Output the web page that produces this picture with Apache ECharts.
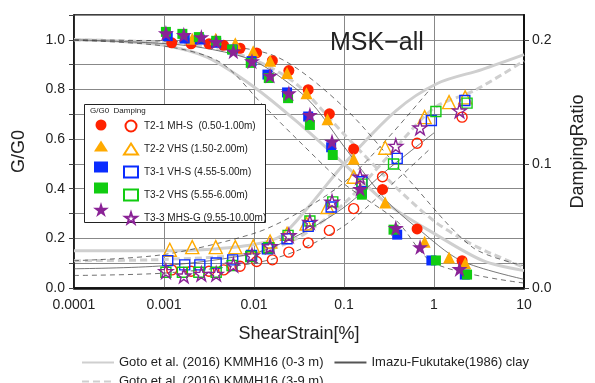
<!DOCTYPE html>
<html>
<head>
<meta charset="utf-8">
<script src="https://cdn.jsdelivr.net/npm/echarts@6/dist/echarts.min.js"></script>
<style>
  html, body { margin: 0; padding: 0; background: #fff; }
  #chart { width: 595px; height: 383px; }
</style>
</head>
<body>
<div id="chart"></div>
<script>
// ---- data ----
// sample strains [%]
const t21Strain = [0.00122, 0.002, 0.00316, 0.0046, 0.007, 0.0107, 0.016, 0.0244, 0.040, 0.0688, 0.128, 0.268, 0.649, 2.05]
const t21G = [0.988, 0.984, 0.984, 0.978, 0.966, 0.947, 0.916, 0.876, 0.799, 0.702, 0.56, 0.397, 0.238, 0.11]
const t21H = [0.0146, 0.0135, 0.0135, 0.0146, 0.0175, 0.0213, 0.0227, 0.0289, 0.0364, 0.0464, 0.064, 0.0896, 0.1166, 0.1377]

const t22Strain = [0.00116, 0.00206, 0.00376, 0.0062, 0.0098, 0.0151, 0.0233, 0.0383, 0.0656, 0.128, 0.287, 0.787, 1.47, 2.22]
const t22G = [null, 1.004, 1.004, 0.986, 0.954, 0.916, 0.866, 0.785, 0.68, 0.521, 0.345, 0.186, 0.123, 0.10]
const t22H = [0.0308, 0.0329, 0.0329, 0.0329, 0.0335, 0.0375, 0.0437, 0.052, 0.0653, 0.0896, 0.113, 0.1377, 0.1498, 0.1536]

const t31Strain = [0.0011, 0.0017, 0.0025, 0.0038, 0.0058, 0.0094, 0.0141, 0.0233, 0.040, 0.072, 0.158, 0.39, 0.935, 2.2]
const t31G = [1.015, 1.005, 1.001, 0.988, 0.961, 0.914, 0.86, 0.788, 0.691, 0.567, 0.383, 0.215, 0.111, 0.054]
const t31H = [0.0221, 0.0186, 0.0186, 0.0202, 0.0227, 0.0262, 0.0316, 0.0397, 0.0497, 0.0653, 0.0856, 0.1045, 0.135, 0.1511]

const t32Strain = [0.00105, 0.0016, 0.00244, 0.0038, 0.0057, 0.0092, 0.0146, 0.0239, 0.0418, 0.075, 0.158, 0.355, 1.05, 2.33]
const t32G = [1.032, 1.024, 1.011, 0.996, 0.961, 0.907, 0.846, 0.765, 0.657, 0.536, 0.376, 0.235, 0.111, 0.054]
const t32H = [0.0127, 0.0127, 0.0127, 0.0127, 0.0181, 0.0254, 0.0324, 0.0424, 0.054, 0.0694, 0.0837, 0.0999, 0.1422, 0.149]

const t33Strain = [0.00105, 0.00166, 0.0026, 0.0038, 0.0059, 0.0095, 0.0151, 0.0244, 0.0418, 0.0736, 0.151, 0.376, 0.70, 1.92]
const t33G = [1.027, 1.02, 1.011, 0.992, 0.954, 0.914, 0.856, 0.785, 0.698, 0.59, 0.40, 0.242, 0.165, 0.077]
const t33H = [0.0135, 0.010, 0.0113, 0.0113, 0.0186, 0.0262, 0.0335, 0.0424, 0.0532, 0.0694, 0.0896, 0.1144, 0.1293, 0.143]

// reference curves
const goto03GStrain = [0.0001, 0.0003, 0.001, 0.003, 0.01, 0.03, 0.1, 0.3, 1, 3.5, 10]
const goto03G = [1.0, 0.995, 0.978, 0.93, 0.81, 0.67, 0.50, 0.34, 0.22, 0.11, 0.07]
const goto03HStrain = [0.0001, 0.001, 0.003, 0.01, 0.02, 0.04, 0.1, 0.38, 1.1, 3.4, 10]
const goto03H = [0.030, 0.030, 0.031, 0.035, 0.042, 0.065, 0.10, 0.143, 0.165, 0.176, 0.188]

const goto39GStrain = [0.0001, 0.001, 0.003, 0.01, 0.03, 0.1, 0.38, 1, 2, 3.7, 10]
const goto39G = [1.0, 0.99, 0.97, 0.92, 0.82, 0.62, 0.405, 0.27, 0.2, 0.15, 0.083]
const goto39HStrain = [0.0001, 0.001, 0.01, 0.03, 0.1, 0.3, 1, 2.8, 10]
const goto39H = [0.022, 0.023, 0.028, 0.04, 0.068, 0.105, 0.145, 0.159, 0.183]

const imazuGStrain = [0.0001, 0.001, 0.003, 0.01, 0.03, 0.05, 0.1, 0.3, 0.66, 2, 10]
const imazuG = [1.0, 0.985, 0.965, 0.915, 0.8, 0.72, 0.57, 0.35, 0.24, 0.11, 0.035]
const imazuHStrain = [0.0001, 0.001, 0.01, 0.03, 0.1, 0.3, 1]
const imazuH = [0.0155, 0.018, 0.028, 0.042, 0.065, 0.095, 0.125]

const upperGStrain = [0.0001, 0.001, 0.003, 0.0183, 0.1, 0.53, 2.7, 10]
const upperG = [1.0, 0.995, 0.985, 0.93, 0.728, 0.434, 0.163, 0.09]
const lowerGStrain = [0.0001, 0.001, 0.0042, 0.0126, 0.03, 0.1, 0.38, 1, 10]
const lowerG = [0.998, 0.975, 0.91, 0.737, 0.6, 0.42, 0.272, 0.1, 0.02]
const upperHStrain = [0.0001, 0.001, 0.01, 0.03, 0.1, 0.3, 0.9]
const upperH = [0.022, 0.027, 0.044, 0.06, 0.085, 0.12, 0.16]
const lowerHStrain = [0.0001, 0.001, 0.01, 0.03, 0.1, 0.3, 0.9]
const lowerH = [0.0101, 0.012, 0.02, 0.03, 0.05, 0.08, 0.112]

const xTickLabels = ['0.0001', '0.001', '0.01', '0.1', '1', '10']

const samples = [
  { name: 'T2-1 MH-S  (0.50-1.00m)', strain: t21Strain, g: t21G, h: t21H, color: '#ff2200', symbol: 'circle', size: 11, openSize: 10 },
  { name: 'T2-2 VHS (1.50-2.00m)', strain: t22Strain, g: t22G, h: t22H, color: '#ffaa00', symbol: 'triangle', size: 12, openSize: 13 },
  { name: 'T3-1 VH-S (4.55-5.00m)', strain: t31Strain, g: t31G, h: t31H, color: '#0a2cff', symbol: 'rect', size: 10, openSize: 10 },
  { name: 'T3-2 VHS (5.55-6.00m)', strain: t32Strain, g: t32G, h: t32H, color: '#11cc11', symbol: 'rect', size: 10, openSize: 10 },
  { name: 'T3-3 MHS-G (9.55-10.00m)', strain: t33Strain, g: t33G, h: t33H, color: '#8a2296', symbol: 'star', size: 16, openSize: 14 }
]

const STAR = 'path://M50,0 L61,35 L98,35 L68,57 L79,91 L50,70 L21,91 L32,57 L2,35 L39,35 Z'
const FONT = 'Liberation Sans, Arial, sans-serif'

function pairs (xs, ys) {
  return xs.map((x, i) => [x, ys[i]]).filter(p => p[1] !== null)
}

function curve (name, xs, ys, yAxisIndex, lineStyle) {
  return {
    name: name,
    type: 'line',
    yAxisIndex: yAxisIndex,
    data: pairs(xs, ys),
    symbol: 'none',
    smooth: 0.3,
    silent: true,
    z: 1,
    color: lineStyle.color,
    lineStyle: lineStyle
  }
}

const gotoSolid = { color: '#cfcfcf', width: 3 }
const gotoDash = { color: '#cfcfcf', width: 3, type: [7, 4] }
const imazuStyle = { color: '#555', width: 0.8 }
const boundStyle = { color: '#333', width: 0.7, type: [5, 4] }

const series = [
  curve('Goto et al. (2016) KMMH16 (0-3 m)', goto03GStrain, goto03G, 0, gotoSolid),
  curve('Goto et al. (2016) KMMH16 (0-3 m)', goto03HStrain, goto03H, 1, gotoSolid),
  curve('Goto et al. (2016) KMMH16 (3-9 m)', goto39GStrain, goto39G, 0, gotoDash),
  curve('Goto et al. (2016) KMMH16 (3-9 m)', goto39HStrain, goto39H, 1, gotoDash),
  curve('Imazu-Fukutake(1986) clay', imazuGStrain, imazuG, 0, imazuStyle),
  curve('Imazu-Fukutake(1986) clay', imazuHStrain, imazuH, 1, imazuStyle),
  curve('upperG', upperGStrain, upperG, 0, boundStyle),
  curve('lowerG', lowerGStrain, lowerG, 0, boundStyle),
  curve('upperH', upperHStrain, upperH, 1, boundStyle),
  curve('lowerH', lowerHStrain, lowerH, 1, boundStyle)
]

samples.forEach((s, i) => {
  const sym = s.symbol === 'star' ? STAR : s.symbol
  series.push({
    name: s.name + ' G',
    type: 'scatter',
    yAxisIndex: 0,
    data: pairs(s.strain, s.g),
    symbol: sym,
    symbolSize: s.size,
    z: 3 + i,
    itemStyle: { color: s.color, opacity: 1 }
  })
  series.push({
    name: s.name,
    type: 'scatter',
    yAxisIndex: 1,
    data: pairs(s.strain, s.h),
    symbol: sym,
    symbolSize: s.openSize,
    z: 3 + i,
    itemStyle: { color: 'rgba(255,255,255,0)', borderColor: s.color, borderWidth: 1.4, opacity: 1 }
  })
})

const chart = echarts.init(document.getElementById('chart'))
chart.setOption({
  animation: false,
  textStyle: { fontFamily: FONT },
  title: {
    text: 'MSK\u2212all',
    left: 325,
    top: 26,
    textStyle: { fontSize: 25, fontWeight: 'normal', color: '#222', fontFamily: FONT }
  },
  grid: { left: 74, right: 65, top: 15, bottom: 95, show: true, borderColor: '#000', borderWidth: 1.5 },
  xAxis: {
    type: 'log',
    logBase: 10,
    min: 0.0001,
    max: 10,
    name: 'ShearStrain[%]',
    nameLocation: 'middle',
    nameGap: 37,
    nameTextStyle: { fontSize: 18, color: '#222' },
    axisLine: { lineStyle: { color: '#111', width: 2.5 } },
    axisTick: { show: false },
    axisLabel: {
      fontSize: 14, color: '#222', margin: 10,
      formatter: v => xTickLabels[Math.round(Math.log10(v)) + 4]
    },
    splitLine: { show: true, lineStyle: { color: '#888', width: 1 } },
    minorTick: { show: false }
  },
  yAxis: [
    {
      type: 'value',
      min: 0,
      max: 1.1,
      interval: 0.1,
      name: 'G/G0',
      nameLocation: 'middle',
      nameGap: 46,
      nameTextStyle: { fontSize: 18, color: '#222' },
      axisLine: { show: true, lineStyle: { color: '#111', width: 1.5 } },
      axisTick: { show: true, length: 5, lineStyle: { color: '#444' } },
      axisLabel: {
        fontSize: 14, color: '#222', margin: 9,
        formatter: v => (Math.round(v * 10) % 2 === 0 && v < 1.05) ? v.toFixed(1) : ''
      },
      splitLine: { show: true, lineStyle: { color: '#888', width: 1 } }
    },
    {
      type: 'value',
      min: 0,
      max: 0.22,
      interval: 0.1,
      name: 'DampingRatio',
      nameLocation: 'middle',
      nameGap: 45,
      nameTextStyle: { fontSize: 18, color: '#222' },
      axisLine: { show: true, lineStyle: { color: '#111', width: 2 } },
      axisTick: { show: true, length: 5, lineStyle: { color: '#444' } },
      axisLabel: {
        fontSize: 14, color: '#222', margin: 8,
        showMaxLabel: false,
        formatter: v => v > 0.205 ? '' : v.toFixed(1)
      },
      splitLine: { show: false }
    }
  ],
  graphic: [
    {
      type: 'rect',
      shape: { x: 84.5, y: 104.5, width: 181, height: 118 },
      style: { fill: '#fff', stroke: '#222', lineWidth: 1 },
      z: 50
    },
    {
      type: 'text',
      left: 90,
      top: 107,
      style: { text: 'G/G0  Damping', fontSize: 8, fill: '#222', fontFamily: FONT },
      z: 51
    }
  ],
  legend: [
    {
      data: samples.slice(0, 4).map(s => s.name + ' G'),
      orient: 'vertical',
      left: 94,
      top: 119.5,
      padding: 0,
      itemGap: 10,
      itemWidth: 14,
      itemHeight: 11,
      selectedMode: false,
      formatter: () => '',
      z: 60
    },
    {
      data: [samples[4].name + ' G'],
      left: 93,
      top: 202,
      padding: 0,
      itemWidth: 16,
      itemHeight: 15,
      selectedMode: false,
      formatter: () => '',
      z: 60
    },
    {
      data: samples.map(s => s.name),
      orient: 'vertical',
      left: 123,
      top: 119.5,
      padding: 0,
      itemGap: 10,
      itemWidth: 14,
      itemHeight: 11,
      selectedMode: false,
      textStyle: { fontSize: 10, color: '#222', padding: [0, 0, 0, 1] },
      z: 60
    },
    {
      data: ['Goto et al. (2016) KMMH16 (0-3 m)', 'Imazu-Fukutake(1986) clay'],
      left: 76,
      top: 351,
      itemGap: 10,
      itemWidth: 32,
      itemHeight: 10,
      selectedMode: false,
      itemStyle: { opacity: 0 },
      textStyle: { fontSize: 13, color: '#222' }
    },
    {
      data: ['Goto et al. (2016) KMMH16 (3-9 m)'],
      left: 76,
      top: 370,
      itemWidth: 32,
      itemHeight: 10,
      selectedMode: false,
      itemStyle: { opacity: 0 },
      textStyle: { fontSize: 13, color: '#222' }
    }
  ],
  series: series
})
</script>
</body>
</html>
